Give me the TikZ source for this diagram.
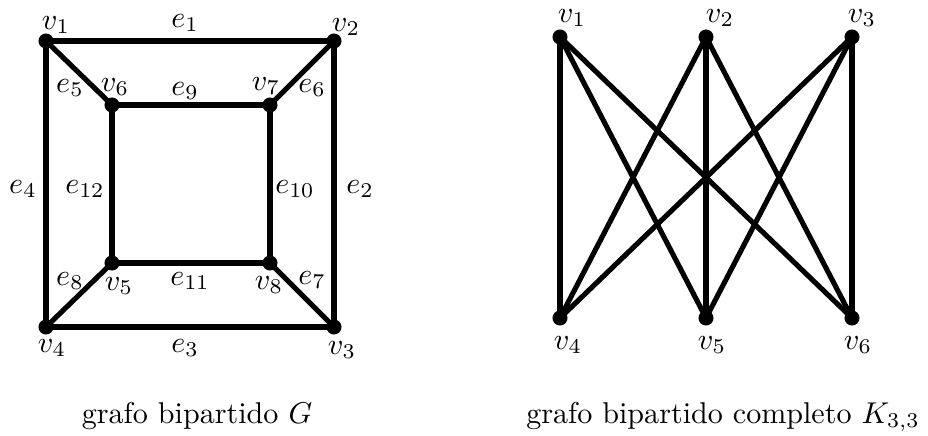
\documentclass[tikz,border=0pt]{standalone}
\begin{document}
\begin{tikzpicture}[x=0.3324pt,y=-0.3324pt,
  vtx/.style={circle,fill=black,inner sep=0pt,minimum size=5pt},
  edge/.style={line width=1.7pt,line cap=round},
  lbl/.style={inner sep=0pt,anchor=center}]
\useasboundingbox (0,0) rectangle (928,436);
% ---- left graph G ----
\node[vtx] (a1) at (46,41) {};
\node[vtx] (a2) at (334,41) {};
\node[vtx] (a3) at (334,327) {};
\node[vtx] (a4) at (46,327) {};
\node[vtx] (a5) at (112,263) {};
\node[vtx] (a6) at (112,105) {};
\node[vtx] (a7) at (270,105) {};
\node[vtx] (a8) at (270,263) {};
\draw[edge] (a1.center) -- (a2.center);
\draw[edge] (a2.center) -- (a3.center);
\draw[edge] (a3.center) -- (a4.center);
\draw[edge] (a4.center) -- (a1.center);
\draw[edge] (a1.center) -- (a6.center);
\draw[edge] (a2.center) -- (a7.center);
\draw[edge] (a3.center) -- (a8.center);
\draw[edge] (a4.center) -- (a5.center);
\draw[edge] (a6.center) -- (a7.center);
\draw[edge] (a7.center) -- (a8.center);
\draw[edge] (a8.center) -- (a5.center);
\draw[edge] (a5.center) -- (a6.center);
\node[lbl] (la1) at (56,25) {$v_1$};
\node[lbl] (la2) at (346,27) {$v_2$};
\node[lbl] (la3) at (342,350) {$v_3$};
\node[lbl] (la4) at (52,348) {$v_4$};
\node[lbl] (la5) at (119,286) {$v_5$};
\node[lbl] (la6) at (115,87) {$v_6$};
\node[lbl] (la7) at (266,86) {$v_7$};
\node[lbl] (la8) at (269,285) {$v_8$};
\node[lbl] (le1) at (185,23) {$e_1$};
\node[lbl] (le2) at (360,189) {$e_2$};
\node[lbl] (le3) at (185,348) {$e_3$};
\node[lbl] (le4) at (23,189) {$e_4$};
\node[lbl] (le5) at (70,88) {$e_5$};
\node[lbl] (le6) at (312,88) {$e_6$};
\node[lbl] (le7) at (312,280) {$e_7$};
\node[lbl] (le8) at (70,281) {$e_8$};
\node[lbl] (le9) at (185,91) {$e_9$};
\node[lbl] (le10) at (295,189) {$e_{10}$};
\node[lbl] (le11) at (190,281) {$e_{11}$};
\node[lbl] (le12) at (85,189) {$e_{12}$};
\node[lbl] (capA) at (197,416) {grafo bipartido $G$};
% ---- right graph K33 ----
\node[vtx] (b1) at (560,37) {};
\node[vtx] (b2) at (706,37) {};
\node[vtx] (b3) at (852,37) {};
\node[vtx] (b4) at (560,318) {};
\node[vtx] (b5) at (706,318) {};
\node[vtx] (b6) at (852,318) {};
\foreach \u in {b1,b2,b3}{
  \foreach \w in {b4,b5,b6}{
    \draw[edge] (\u.center) -- (\w.center);
  }
}
\node[lbl] (lb1) at (572,18) {$v_1$};
\node[lbl] (lb2) at (720,18) {$v_2$};
\node[lbl] (lb3) at (862,18) {$v_3$};
\node[lbl] (lb4) at (568,345) {$v_4$};
\node[lbl] (lb5) at (712,345) {$v_5$};
\node[lbl] (lb6) at (858,345) {$v_6$};
\node[lbl] (capB) at (723,417) {grafo bipartido completo $K_{3,3}$};
\end{tikzpicture}
\end{document}
